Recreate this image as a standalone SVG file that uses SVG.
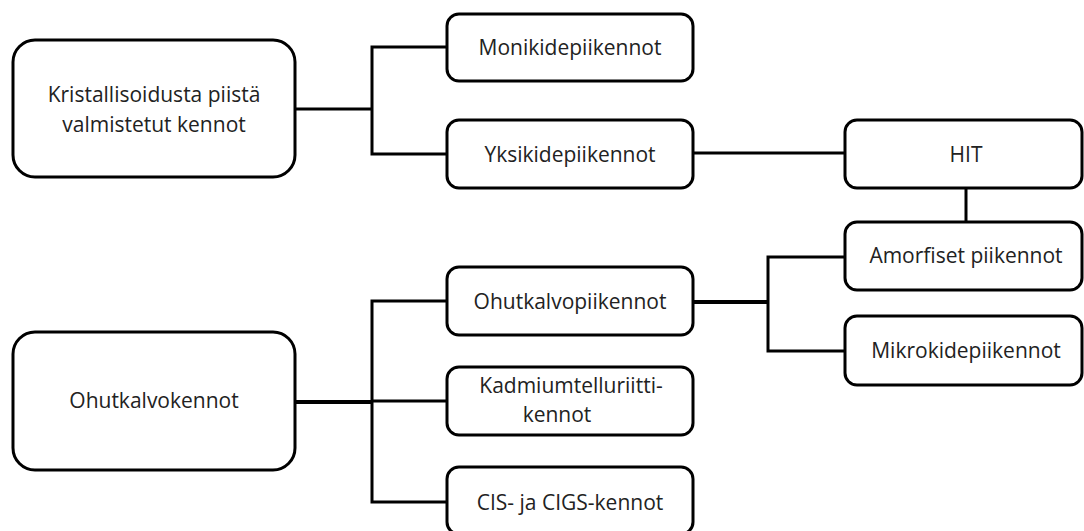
<svg xmlns="http://www.w3.org/2000/svg" width="1084" height="531" viewBox="0 0 1084 531">
<style>
.box{fill:#fff;stroke:#000;stroke-width:3}
.lbl{font-family:"Open Sans","Noto Sans",sans-serif;font-size:21px;fill:#222;text-anchor:middle}
.con{fill:none;stroke:#000;stroke-width:3}
.thick{stroke-width:4}
</style>
<rect width="1084" height="531" fill="#fff"/>
<g id="connectors">
<path class="con" d="M295,109 H372 M447,47 H372 V154 H447"/>
<path class="con" d="M693,153 H845"/>
<path class="con" d="M966,188 V222"/>
<path class="con thick" d="M693,302 H768"/>
<path class="con" d="M845,257 H768 V351 H845"/>
<path class="con thick" d="M295,402 H372"/>
<path class="con" d="M447,301 H372 V502 H447 M372,401 H447"/>
</g>
<g id="n-kristallisoidusta">
<rect class="box" x="13" y="40" width="282" height="137" rx="22"/>
<text class="lbl" x="154" y="102">Kristallisoidusta piistä</text>
<text class="lbl" x="154" y="132">valmistetut kennot</text>
</g>
<g id="n-monikide">
<rect class="box" x="447" y="14" width="246" height="67" rx="12"/>
<text class="lbl" x="570" y="55">Monikidepiikennot</text>
</g>
<g id="n-yksikide">
<rect class="box" x="447" y="120" width="246" height="68" rx="12"/>
<text class="lbl" x="570" y="162">Yksikidepiikennot</text>
</g>
<g id="n-hit">
<rect class="box" x="845" y="120" width="237" height="68" rx="12"/>
<text class="lbl" x="966" y="162">HIT</text>
</g>
<g id="n-amorfiset">
<rect class="box" x="845" y="222" width="237" height="68" rx="12"/>
<text class="lbl" x="966" y="263">Amorfiset piikennot</text>
</g>
<g id="n-mikrokide">
<rect class="box" x="845" y="316" width="237" height="69" rx="12"/>
<text class="lbl" x="966" y="358">Mikrokidepiikennot</text>
</g>
<g id="n-ohutkalvopii">
<rect class="box" x="447" y="267" width="246" height="68" rx="12"/>
<text class="lbl" x="570" y="309">Ohutkalvopiikennot</text>
</g>
<g id="n-kadmium">
<rect class="box" x="447" y="367" width="246" height="68" rx="12"/>
<text class="lbl" x="571" y="393">Kadmiumtelluriitti-</text>
<text class="lbl" x="557" y="422">kennot</text>
</g>
<g id="n-cis">
<rect class="box" x="447" y="467" width="246" height="67" rx="12"/>
<text class="lbl" x="570" y="510">CIS- ja CIGS-kennot</text>
</g>
<g id="n-ohutkalvo">
<rect class="box" x="13" y="332" width="282" height="138" rx="22"/>
<text class="lbl" x="154" y="408">Ohutkalvokennot</text>
</g>
</svg>
